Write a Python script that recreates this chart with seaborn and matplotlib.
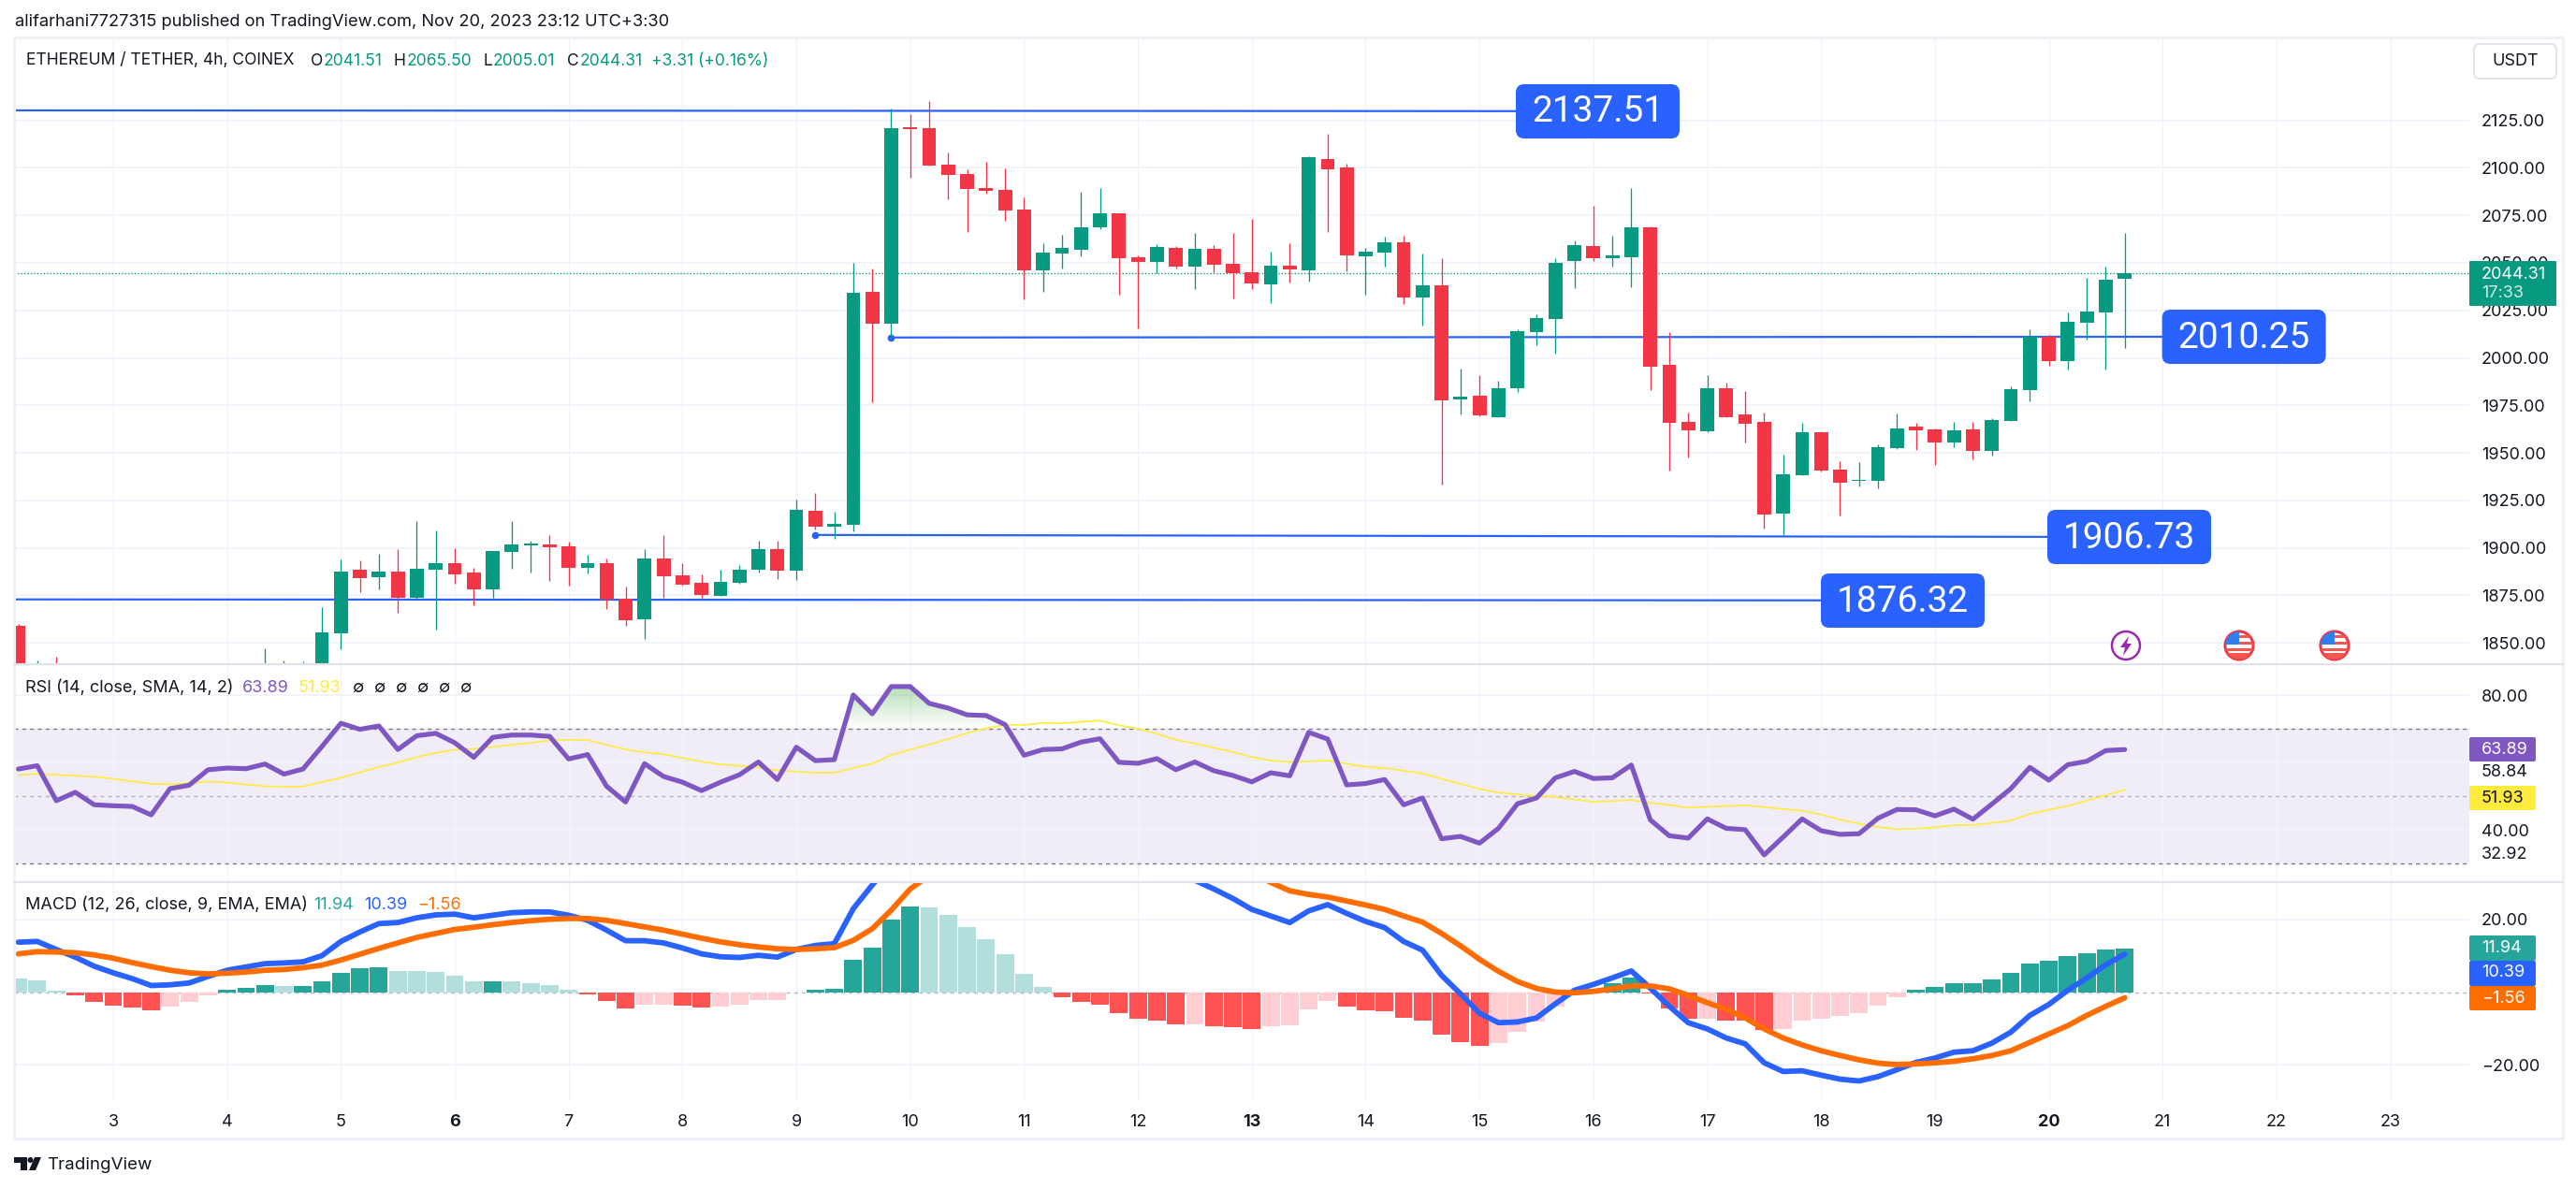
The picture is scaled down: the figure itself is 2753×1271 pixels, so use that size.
import numpy as np
import pandas as pd
import matplotlib
matplotlib.use('Agg')
import matplotlib.pyplot as plt
import seaborn as sns
from matplotlib.patches import Circle, FancyBboxPatch, Polygon, Rectangle
from matplotlib.path import Path

# ETH/USDT 4h candles (bars under the pane bottom are estimates)
opens = [1859, 1834, 1836, 1833, 1830, 1826, 1825, 1824, 1821, 1826,
         1828, 1831, 1833, 1832, 1836, 1835, 1837, 1855, 1888.5, 1884.5,
         1887.5, 1873.7, 1888.5, 1892, 1887.1, 1878.3, 1898, 1901.4, 1901.8, 1900.8,
         1889.5, 1892, 1873.3, 1862.4, 1894.4, 1885.5, 1881.7, 1874.7, 1881.7, 1888.5,
         1899.4, 1888.1, 1919.5, 1911.2, 1912.2, 2034.8, 2017.9, 2120.6, 2120.8, 2101.7,
         2096.7, 2089.4, 2088.4, 2078, 2046, 2054.9, 2056.9, 2068.7, 2076, 2052.9,
         2050.5, 2057.9, 2048.1, 2057.3, 2049.5, 2045, 2038.6, 2048.5, 2046, 2104.7,
         2100.1, 2053.5, 2055.5, 2060.7, 2031.8, 2038.2, 1978.1, 1980.2, 1968.7, 1984,
         2013.5, 2020.5, 2050.9, 2058.9, 2052.5, 2052.9, 2068.7, 1996.4, 1966.3, 1961.5,
         1984, 1970.3, 1966.3, 1918.1, 1938.4, 1960.9, 1941.2, 1935.3, 1935.4, 1952.4,
         1963.9, 1962.3, 1955.4, 1962.3, 1951, 1966.9, 1983, 2011.1, 1998.2, 2018.5,
         2023.9, 2041.51]
closes = [1836, 1836, 1833, 1830, 1826, 1825, 1824, 1821, 1826, 1828,
          1831, 1833, 1832, 1836, 1835, 1837, 1855.6, 1887.5, 1884.1, 1887.5,
          1873.7, 1888.9, 1892, 1886.1, 1878.3, 1898.4, 1901.8, 1901.8, 1900.4, 1889.5,
          1892, 1872.9, 1862, 1894.4, 1885.1, 1880.7, 1875.3, 1882.1, 1888.5, 1899.4,
          1888.1, 1920.1, 1911.2, 1912.6, 2034.2, 2017.9, 2120.8, 2120.4, 2101.1, 2096.3,
          2088.8, 2087.8, 2077.6, 2046, 2055.5, 2057.9, 2068.7, 2076, 2052.5, 2050.5,
          2058.3, 2048.1, 2057.3, 2049.1, 2044.6, 2039.2, 2048.5, 2046.4, 2105.5, 2099.3,
          2053.9, 2055.9, 2060.7, 2031.8, 2038.2, 1977.5, 1979.5, 1969.7, 1984, 2014.1,
          2020.9, 2050.1, 2059.3, 2052.5, 2053.9, 2068.7, 1995.4, 1965.9, 1961.9, 1984,
          1968.7, 1965.3, 1917.7, 1938.8, 1960.9, 1940.8, 1934.3, 1935.6, 1953, 1962.9,
          1961.9, 1955.4, 1961.9, 1951, 1967.3, 1983.6, 2010.9, 1998.2, 2018.9, 2024.3,
          2041, 2044.31]
highs = [1860, 1840.7, 1842.7, 1836, 1833, 1830, 1829, 1827, 1829, 1831,
         1834, 1839.3, 1839.3, 1847.2, 1840.7, 1840.3, 1868.9, 1894, 1893.4, 1897,
         1899.4, 1914.1, 1909.2, 1899.8, 1889.5, 1898.4, 1914.1, 1903.8, 1906.8, 1903.2,
         1896.4, 1894.4, 1879.7, 1899.4, 1906.8, 1892, 1886.1, 1888.5, 1891, 1903.8,
         1903.8, 1925.5, 1928.9, 1919.1, 2050.1, 2047.1, 2131.2, 2128.2, 2135, 2108.1,
         2099.3, 2103.1, 2099.7, 2084.4, 2060.3, 2064.7, 2087.4, 2089.4, 2076, 2053.9,
         2059.9, 2058.9, 2065.7, 2059.3, 2065.7, 2073.2, 2055.9, 2060.3, 2106.3, 2118,
         2102.1, 2057.9, 2063.7, 2064.3, 2054.9, 2052.5, 1994.4, 1991, 1988, 2015.1,
         2022.7, 2052.5, 2061.7, 2080, 2064.3, 2089.4, 2069.1, 2013.5, 1971.3, 1991,
         1987, 1982.6, 1971.3, 1949, 1965.9, 1960.9, 1945.6, 1945.2, 1954.4, 1970.7,
         1965.9, 1962.9, 1966.3, 1966.3, 1968.3, 1985, 2015.1, 2012.3, 2023.7, 2042,
         2048.1, 2065.5]
lows = [1832, 1828, 1829, 1826, 1822, 1820, 1820, 1817, 1819, 1823,
        1826, 1829, 1829, 1830, 1832, 1833, 1833, 1846.8, 1876.7, 1878.3,
        1865.8, 1873.3, 1857, 1881.1, 1869.9, 1873.7, 1888.9, 1887.1, 1882.7, 1880.1,
        1886.5, 1868, 1859, 1852.2, 1873.7, 1880.1, 1873.7, 1874.7, 1881.1, 1887.1,
        1883.5, 1883.1, 1909.6, 1904.8, 1908.6, 1976.7, 2010.7, 2094.9, 2101, 2083.4,
        2066.1, 2086.4, 2072.2, 2030.8, 2034.8, 2047.1, 2053.5, 2067.7, 2033.2, 2015.3,
        2044.6, 2047.1, 2036.2, 2045, 2031.2, 2036.2, 2028.8, 2039.6, 2040.2, 2066.1,
        2045.6, 2033.2, 2048.1, 2028.4, 2016.9, 1933.3, 1970.3, 1969.3, 1968.7, 1982,
        2006.7, 2002.2, 2036.6, 2050.9, 2048.1, 2037.2, 1983, 1940.8, 1947.6, 1961.1,
        1968.7, 1955.4, 1910.2, 1906.8, 1938, 1940, 1917.1, 1932.5, 1931.5, 1952,
        1951.6, 1943.6, 1953, 1946.6, 1948.6, 1966.9, 1977.1, 1995.8, 1993.8, 2009.7,
        1993.8, 2005.01]

rsi = [58.1, 59.1, 48.7, 51.2, 47.5, 47.2, 47.0, 44.5, 52.3, 53.3,
       57.9, 58.4, 58.2, 59.6, 56.6, 58.1, 64.8, 71.7, 69.9, 70.9,
       63.9, 68.0, 68.7, 65.9, 61.6, 67.5, 68.2, 68.2, 67.8, 61.1,
       62.4, 53.0, 48.3, 59.7, 55.9, 54.2, 51.7, 54.2, 56.4, 60.2,
       55.0, 64.6, 60.6, 60.9, 80.1, 74.5, 82.6, 82.6, 77.6, 76.2,
       74.2, 74.0, 71.3, 62.2, 63.9, 64.1, 66.1, 67.1, 60.1, 59.8,
       61.2, 57.9, 60.2, 57.6, 56.2, 54.3, 57.0, 56.1, 69.0, 67.0,
       53.4, 53.8, 55.0, 47.5, 49.5, 37.4, 38.1, 36.1, 40.5, 47.8,
       49.5, 55.5, 57.4, 55.3, 55.5, 59.3, 43.0, 38.3, 37.6, 43.3,
       40.5, 40.1, 32.6, 37.9, 43.3, 39.8, 38.7, 38.9, 43.5, 46.1,
       46.0, 44.2, 46.2, 43.2, 47.7, 52.3, 58.6, 54.8, 59.4, 60.4,
       63.6, 63.89]
rsi_ma = [56.3, 56.7, 56.4, 56.1, 55.8, 55.2, 54.5, 53.7, 53.6, 53.9,
          54.4, 54.1, 53.5, 53.0, 52.9, 52.9, 54.2, 55.5, 57.1, 58.7,
          60.0, 61.7, 62.9, 63.8, 64.1, 64.7, 65.3, 65.9, 66.6, 66.8,
          66.7, 65.3, 63.9, 63.1, 62.5, 61.4, 60.3, 59.5, 59.1, 58.6,
          57.7, 57.4, 57.0, 57.0, 58.4, 59.7, 62.2, 63.9, 65.4, 67.0,
          68.8, 70.2, 71.2, 71.2, 71.8, 71.7, 72.1, 72.5, 71.1, 70.1,
          68.6, 66.8, 65.7, 64.4, 63.2, 61.7, 60.6, 60.2, 60.4, 60.6,
          59.7, 58.8, 58.4, 57.6, 56.8, 55.2, 53.7, 52.2, 51.1, 50.6,
          50.1, 49.8, 49.1, 48.4, 48.6, 48.9, 48.1, 47.4, 46.6, 46.9,
          47.1, 47.3, 46.8, 46.2, 45.7, 44.6, 43.1, 41.9, 40.9, 40.2,
          40.4, 40.8, 41.4, 41.5, 42.1, 42.8, 44.8, 46.0, 47.1, 48.7,
          50.3, 51.93]

macd = [13.7, 13.9, 11.7, 9.6, 7.1, 5.3, 3.7, 1.8, 2.0, 2.5,
        4.3, 6.0, 6.9, 7.8, 8.0, 8.3, 10.0, 13.9, 16.5, 18.8,
        19.1, 20.4, 21.2, 21.4, 20.4, 21.1, 21.8, 22.0, 22.0, 21.1,
        19.7, 17.0, 14.1, 14.1, 13.5, 12.1, 10.5, 9.7, 9.5, 10.1,
        9.6, 11.7, 12.8, 13.3, 22.9, 29.4, 35.5, 40.2, 42.6, 44.1,
        44.8, 45.0, 44.4, 43.6, 42.5, 41.2, 39.8, 38.6, 37.0, 35.6,
        34.0, 32.4, 30.7, 28.3, 25.7, 22.7, 20.9, 19.1, 22.3, 24.0,
        21.6, 19.4, 17.7, 13.9, 11.5, 4.6, -0.5, -5.8, -8.4, -8.2,
        -7.1, -3.2, 0.5, 2.1, 3.9, 5.8, 1.1, -3.9, -8.4, -10.1,
        -12.6, -14.2, -19.4, -21.8, -21.6, -22.8, -23.9, -24.4, -23.2, -21.3,
        -19.3, -18.1, -16.5, -16.1, -14.0, -11.0, -6.4, -3.4, 0.5, 3.9,
        7.5, 10.39]
signal = [10.5, 11.1, 11.0, 10.8, 10.2, 9.3, 8.1, 7.0, 6.0, 5.3,
          5.0, 5.2, 5.5, 6.0, 6.2, 6.7, 7.4, 8.8, 10.4, 12.0,
          13.5, 15.0, 16.1, 17.2, 17.8, 18.5, 19.1, 19.6, 20.0, 20.2,
          20.2, 19.7, 18.8, 17.9, 17.0, 15.9, 14.8, 13.8, 13.0, 12.4,
          11.9, 11.7, 11.9, 12.2, 14.2, 17.4, 22.5, 28.3, 32.0, 34.5,
          36.5, 38.0, 39.2, 40.0, 40.5, 40.6, 40.5, 40.2, 39.6, 39.0,
          38.2, 37.3, 36.4, 35.4, 34.3, 32.8, 30.1, 27.8, 26.8, 26.1,
          25.0, 23.9, 22.7, 20.9, 19.2, 16.1, 12.7, 9.0, 5.7, 2.9,
          1.0, 0.0, -0.2, 0.2, 0.9, 1.7, 1.7, 0.9, -0.9, -2.9,
          -4.7, -7.1, -10.1, -12.6, -14.5, -16.1, -17.4, -18.6, -19.5, -19.9,
          -19.7, -19.4, -19.0, -18.3, -17.4, -16.1, -13.8, -11.5, -9.2, -6.4,
          -3.9, -1.56]
hist = [3.8, 3.2, 0.5, -1.0, -2.7, -3.7, -4.2, -5.0, -3.9, -2.7,
        -0.8, 0.6, 1.2, 1.9, 1.7, 1.7, 2.9, 5.3, 6.6, 6.8,
        5.8, 5.8, 5.5, 4.5, 2.9, 2.9, 2.9, 2.5, 1.9, 0.6,
        -0.6, -2.4, -4.5, -3.4, -3.4, -3.7, -4.2, -3.9, -3.4, -2.1,
        -2.1, -0.1, 0.6, 0.9, 8.9, 12.2, 19.9, 23.5, 23.2, 21.2,
        17.9, 14.5, 10.5, 5.0, 1.5, -1.4, -2.7, -3.4, -5.8, -7.2,
        -7.8, -8.8, -8.8, -9.4, -9.5, -10.1, -9.4, -9.1, -4.7, -2.4,
        -3.9, -5.0, -5.2, -7.1, -7.8, -11.7, -13.7, -14.7, -13.9, -10.8,
        -8.1, -3.9, -0.5, 0.6, 2.5, 4.0, -0.5, -4.5, -7.2, -7.2,
        -7.8, -7.8, -10.4, -10.1, -7.8, -7.2, -6.5, -5.8, -3.7, -1.5,
        0.6, 1.5, 2.5, 2.5, 3.5, 5.3, 7.9, 8.6, 9.9, 10.6,
        11.7, 11.94]
# g/l = strong/faded green column, r/p = strong/faded red column
hist_kind = list('lll' 'rrrrr' 'ppp' 'ggg' 'l' 'ggggg' 'lllll' 'g' 'llll' 'rrr' 'pp' 'rr'
                 'ppppp' 'gggggg' 'lllllll' 'rrrrrrr' 'p' 'rrr' 'pppp' 'rrrrrrrr' 'ppppp'
                 'ggg' 'rrr' 'p' 'rrr' 'ppppppp' 'gggggggggggg')

price_ticks = [1850, 1875, 1900, 1925, 1950, 1975, 2000, 2025, 2050, 2075, 2100, 2125]
day_labels = list(range(3, 24))
bold_days = [6, 13, 20]

# drawn trend lines: start bar, end bar, start price, end price
line_x0 = [-0.25, 46, 42, -0.25]
line_x1 = [79, 113, 107, 95]
line_p0 = [2130.2, 2010.7, 1906.8, 1872.9]
line_p1 = [2129.8, 2011.1, 1905.8, 1872.4]
line_labels = ['2137.51', '2010.25', '1906.73', '1876.32']

W, H = 2753, 1271
LEFT, RIGHT = 14.5, 2639
UP, DOWN = '#089981', '#f23645'
BLUE = '#2962ff'
ORANGE = '#ff6d00'
PURPLE = '#7e57c2'
YELLOW = '#ffeb3b'
TEAL = '#26a69a'
INK = '#131722'
GRID = '#f0f3fa'
BORDER = '#e0e3eb'

sns.set_theme(style='white')
plt.rcParams['font.family'] = ['Inter', 'DejaVu Sans']

df = pd.DataFrame({'open': opens, 'high': highs, 'low': lows, 'close': closes,
                   'rsi': rsi, 'rsi_ma': rsi_ma, 'macd': macd, 'signal': signal,
                   'hist': hist, 'kind': hist_kind})
df['bar'] = df.index
# day 3 sits on bar 5, six 4h bars per day
day_ticks = [5 + (d - 3) * 6 for d in day_labels]
xlim = (-0.25, 129.16)

fig = plt.figure(figsize=(W / 100, H / 100), dpi=100, facecolor='white')


def pane(top, bottom):
    ax = fig.add_axes([LEFT / W, 1 - bottom / H, (RIGHT - LEFT) / W, (bottom - top) / H])
    ax.set_axisbelow(True)
    for s in ax.spines.values():
        s.set_visible(False)
    ax.yaxis.tick_right()
    ax.tick_params(axis='both', length=0, labelsize=13, labelcolor=INK, pad=9.4)
    ax.set_xticks(day_ticks)
    ax.grid(True, axis='x', color=GRID, lw=1)
    ax.grid(True, axis='y', color=GRID, lw=1.3)
    ax.set_xlabel('')
    ax.set_ylabel('')
    return ax


# price pane
ax = pane(41, 710)
ax.axhline(closes[-1], color=UP, lw=1, ls=(0, (1, 1.5)), zorder=1)
for x0, x1, p0, p1 in zip(line_x0, line_x1, line_p0, line_p1):
    ax.plot([x0, x1], [p0, p1], color=BLUE, lw=1.6, zorder=2, solid_capstyle='butt')
ax.plot([line_x0[1], line_x0[2]], [line_p0[1], line_p0[2]], ls='none', marker='o', ms=4.5,
        color=BLUE, zorder=2)
cols = [UP if c >= o else DOWN for o, c in zip(opens, closes)]
ax.vlines(df['bar'], df['low'], df['high'], colors=cols, lw=0.95, zorder=3)
heights = np.maximum((df['close'] - df['open']).abs(), 0.7)
ax.bar(df['bar'], heights, bottom=df[['open', 'close']].min(axis=1), width=0.73, color=cols, lw=0, zorder=4)
ax.set_yticks(price_ticks, [f'{p:.2f}' for p in price_ticks])
ax.set_xlim(xlim)
ax.set_ylim(1838.8, 2168.1)
ax.tick_params(axis='x', labelbottom=False)

# RSI pane
ax_rsi = pane(710, 943.3)
ax_rsi.axhspan(30, 70, color=PURPLE, alpha=0.1, lw=0, zorder=0.5)
for lvl, a in [(70, 1), (50, 0.5), (30, 1)]:
    ax_rsi.axhline(lvl, color='#787b86', lw=1, ls=(0, (3, 3)), alpha=a, zorder=1)
over = ax_rsi.fill_between(df['bar'], 70, df['rsi'], where=df['rsi'] > 70, interpolate=True, color='none')
fade = np.zeros((64, 1, 4))
fade[..., 0], fade[..., 1], fade[..., 2] = 0.3, 0.69, 0.31
fade[:, 0, 3] = np.linspace(0.45, 0, 64)
im = ax_rsi.imshow(fade, extent=(0, 111, 70, 84), aspect='auto', zorder=1.5, origin='upper')
im.set_clip_path(Path.make_compound_path(*over.get_paths()), transform=ax_rsi.transData)
sns.lineplot(data=df, x='bar', y='rsi_ma', ax=ax_rsi, color=YELLOW, lw=1.2, zorder=3, errorbar=None)
sns.lineplot(data=df, x='bar', y='rsi', ax=ax_rsi, color=PURPLE, lw=3.7, zorder=4, errorbar=None)
ax_rsi.set_yticks([80, 60, 40], ['80.00', '', '40.00'])
ax_rsi.set_xlim(xlim)
ax_rsi.set_ylim(24.43, 89.24)
ax_rsi.set_xlabel('')
ax_rsi.set_ylabel('')
ax_rsi.tick_params(axis='x', labelbottom=False)

# MACD pane
ax_macd = pane(943.3, 1175)
ax_macd.axhline(0, color='#787b86', lw=1, ls=(0, (3, 3)), alpha=0.5, zorder=1)
sns.barplot(data=df, x='bar', y='hist', hue='kind', ax=ax_macd, native_scale=True, width=0.93, dodge=False,
            palette={'g': TEAL, 'l': '#b2dfdb', 'r': '#ff5252', 'p': '#ffcdd2'}, legend=False,
            errorbar=None, linewidth=0, saturation=1, zorder=2)
sns.lineplot(data=df, x='bar', y='macd', ax=ax_macd, color=BLUE, lw=4.2, zorder=4, errorbar=None)
sns.lineplot(data=df, x='bar', y='signal', ax=ax_macd, color=ORANGE, lw=4.2, zorder=5, errorbar=None)
ax_macd.set_yticks([20, -20], ['20.00', '\u221220.00'])
ax_macd.set_xticks(day_ticks, [str(d) for d in day_labels])
ax_macd.set_xlim(xlim)
ax_macd.set_ylim(-29.4, 30.1)
ax_macd.set_xlabel('')
ax_macd.set_ylabel('')
ax_macd.tick_params(axis='x', pad=11.5)
ax_macd.grid(True, axis='x', color=GRID, lw=1)
ax_macd.grid(True, axis='y', color=GRID, lw=1.3)
for lab, d in zip(ax_macd.get_xticklabels(), day_labels):
    if d in bold_days:
        lab.set_fontweight('bold')

# overlay in image pixels for the chrome around the panes
top = fig.add_axes([0, 0, 1, 1], facecolor='none')
top.set_xlim(0, W)
top.set_ylim(H, 0)
top.axis('off')


def txt(x, y, s, color=INK, size=13, ha='left', weight='normal', family=None):
    top.text(x, y, s, color=color, fontsize=size, ha=ha, va='center', fontweight=weight, family=family)


def box(x0, y0, x1, y1, color, r=3, ec='none', lw=0):
    top.add_patch(FancyBboxPatch((x0, y0), x1 - x0, y1 - y0, boxstyle=f'round,pad=0,rounding_size={r}',
                                 fc=color, ec=ec, lw=lw))


top.add_patch(Rectangle((LEFT, 40), 2739 - LEFT, 1217 - 40, fc='none', ec='#f0f1f6', lw=2.2))
top.plot([LEFT, 2739], [710, 710], color=BORDER, lw=1.5)
top.plot([LEFT, 2739], [943.3, 943.3], color=BORDER, lw=1.5)

txt(15.5, 24, 'alifarhani7727315 published on TradingView.com, Nov 20, 2023 23:12 UTC+3:30', size=13.2)
txt(27.5, 65, 'ETHEREUM / TETHER, 4h, COINEX', size=12.6)
for x, s in [(332, 'O'), (421, 'H'), (516.6, 'L'), (605.6, 'C')]:
    txt(x, 65, s, size=12.6)
for x, s in [(345.6, '2041.51'), (434.6, '2065.50'), (527, '2005.01'), (619.4, '2044.31'),
             (696.3, '+3.31 (+0.16%)')]:
    txt(x, 65, s, color=UP, size=12.6)

box(2644, 47, 2732, 84, 'white', r=6, ec=BORDER, lw=1.3)
txt(2688, 66, 'USDT', size=13, ha='center')

# trend line value labels
for (x0, y0), s in zip([(1620, 90), (2310.6, 331), (2188, 545), (1946, 613)], line_labels):
    box(x0, y0, x0 + 175, y0 + 58, BLUE, r=9)
    txt(x0 + 87.5, y0 + 30, s, color='white', size=28, ha='center', family='Roboto')

# current price tag
box(2639, 279, 2732, 327, UP, r=1)
txt(2652, 293, '2044.31', color='white')
txt(2652, 314, '17:33', color='#cdeae3')

# RSI header and tags
txt(27, 735, 'RSI (14, close, SMA, 14, 2)')
txt(259, 735, '63.89', color=PURPLE)
txt(319, 735, '51.93', color=YELLOW)
for x in [376, 399, 422, 445, 468, 491]:
    txt(x, 735, '\u2205', size=13, ha='left')
box(2639, 788, 2710, 814, PURPLE, r=2)
txt(2652, 801, '63.89', color='white')
txt(2652, 826, '58.84')
box(2639, 840, 2710, 866, YELLOW, r=2)
txt(2652, 853, '51.93')
txt(2652, 913, '32.92')

# MACD header and tags
txt(27, 967.6, 'MACD (12, 26, close, 9, EMA, EMA)')
txt(335, 967.6, '11.94', color=TEAL)
txt(389, 967.6, '10.39', color=BLUE)
txt(446, 967.6, '\u22121.56', color=ORANGE)
box(2639, 1000, 2710, 1027, TEAL, r=2)
txt(2652, 1014, '11.94', color='white')
box(2639, 1027, 2710, 1054, BLUE, r=2)
txt(2652, 1040, '10.39', color='white')
box(2639, 1054, 2710, 1080, ORANGE, r=2)
txt(2652, 1067, '\u22121.56', color='white')

# event icons
top.add_patch(Circle((2272, 690), 15, fc='white', ec='#9c27b0', lw=1.8))
top.add_patch(Polygon([(2275, 680), (2266, 692), (2271, 692), (2269, 701), (2278, 688), (2273, 688)],
                      fc='#9c27b0', ec='none'))
for cx in [2393, 2495]:
    ring = Circle((cx, 690), 15, fc='white', ec='#f23645', lw=2.2)
    top.add_patch(ring)
    for y0, h in [(679, 3), (686, 3), (693, 3), (698, 8)]:
        stripe = Rectangle((cx - 15, y0), 30, h, fc='#f4574f', ec='none')
        top.add_patch(stripe)
        stripe.set_clip_path(ring)
    canton = Rectangle((cx - 15, 675), 15, 14, fc='#2f7df0', ec='none')
    top.add_patch(canton)
    canton.set_clip_path(ring)

# TradingView mark
top.add_patch(Polygon([(15, 1237), (29, 1237), (29, 1251), (22, 1251), (22, 1243), (15, 1243)], fc=INK, ec='none'))
top.add_patch(Circle((32.5, 1240), 3, fc=INK, ec='none'))
top.add_patch(Polygon([(37, 1237), (44, 1237), (38, 1251), (31, 1251)], fc=INK, ec='none'))
txt(50, 1245.6, 'TradingView', size=13.5)

fig.savefig('out.png', dpi=100)
